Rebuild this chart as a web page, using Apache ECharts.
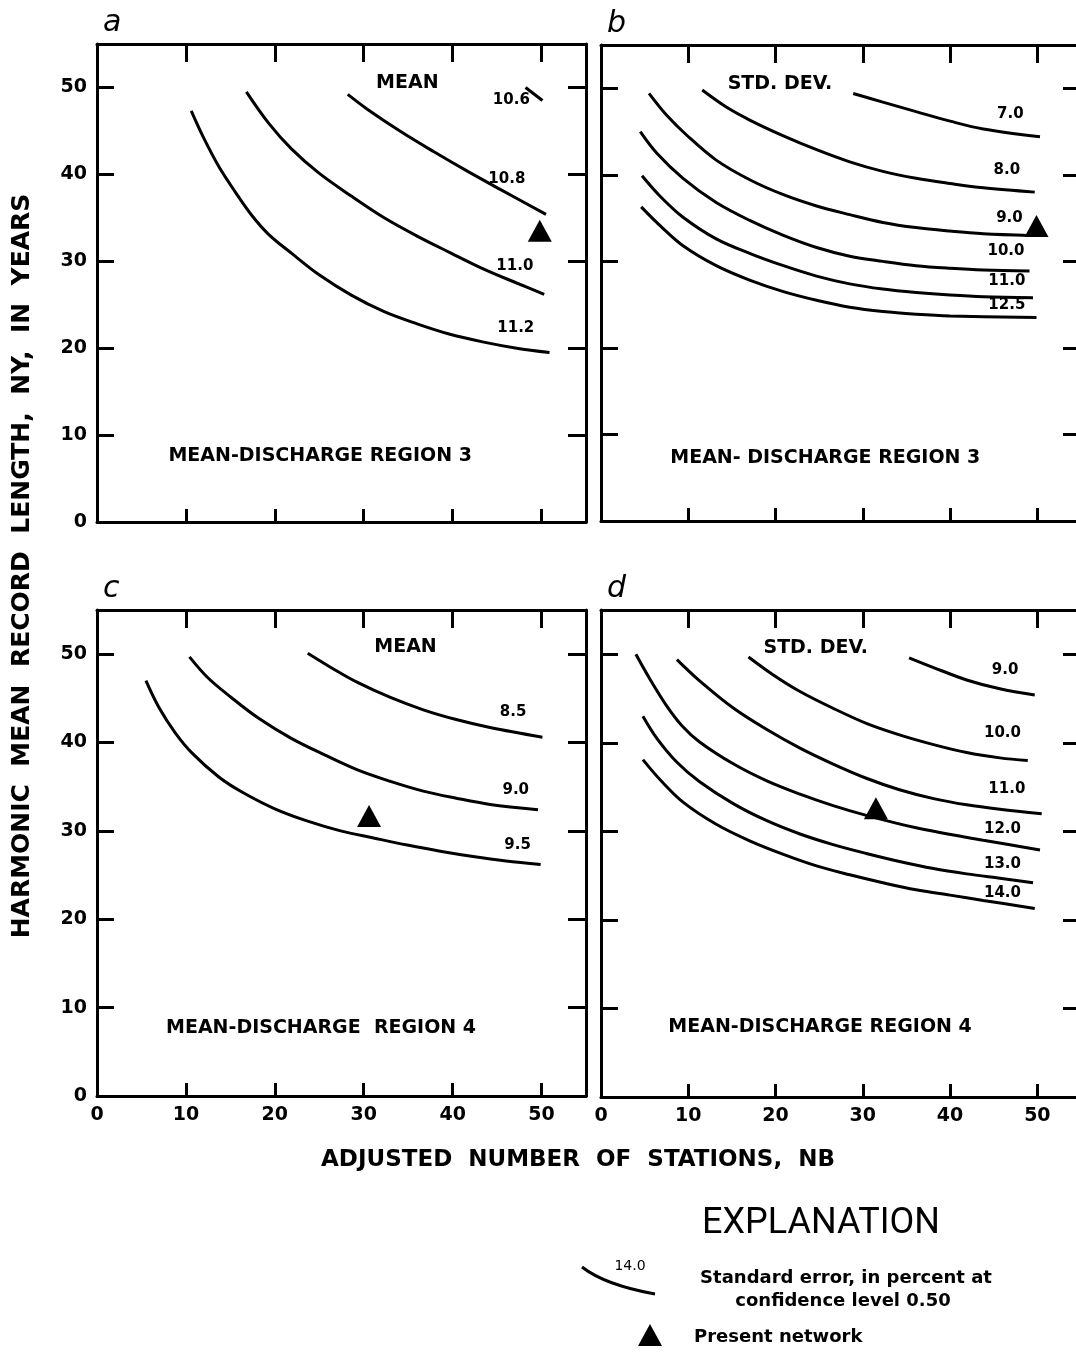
<!DOCTYPE html>
<html>
<head>
<meta charset="utf-8">
<title>Harmonic mean record length vs adjusted number of stations</title>
<script src="https://cdn.jsdelivr.net/npm/echarts@6/dist/echarts.min.js"></script>
<style>
html, body { margin: 0; padding: 0; background: #fff; overflow: hidden; }
#main { width: 1100px; height: 1353px; }
</style>
</head>
<body>
<div id="main"></div>
<script>
// axis ticks (both axes 0..55, labelled every 10)
var axisTicks = [0, 10, 20, 30, 40, 50];

// a: region 3, mean -- curves of standard error (percent)
var a106 = [[48.2, 50.0], [50.1, 48.5]];
var a108 = [[28.2, 49.2], [30.4, 47.5], [34.2, 44.9], [37.9, 42.6], [41.6, 40.4], [45.3, 38.3], [50.5, 35.4]];
var a110 = [[16.8, 49.5], [19.3, 45.9], [21.9, 42.9], [24.9, 40.2], [28.6, 37.5], [32.3, 35.0], [36.0, 32.9], [39.7, 31.0], [43.5, 29.1], [47.2, 27.5], [50.3, 26.2]];
var a112 = [[10.6, 47.3], [11.9, 44.4], [13.7, 40.9], [15.6, 37.9], [17.4, 35.3], [19.3, 33.1], [21.9, 30.9], [24.9, 28.5], [28.6, 26.1], [32.3, 24.2], [36.0, 22.8], [39.7, 21.6], [43.5, 20.7], [47.2, 20.0], [50.9, 19.5]];
var aNet = [[49.8, 33.5]];

// b: region 3, standard deviation
var b70 = [[28.9, 49.4], [32.3, 48.4], [36.1, 47.3], [40.0, 46.2], [43.8, 45.3], [50.3, 44.4]];
var b80 = [[11.6, 49.8], [14.4, 47.8], [17.1, 46.3], [20.9, 44.5], [24.7, 42.9], [28.5, 41.5], [32.3, 40.4], [36.1, 39.6], [40.0, 39.0], [43.8, 38.5], [49.7, 38.0]];
var b90 = [[5.5, 49.4], [7.5, 46.9], [9.8, 44.6], [13.2, 41.7], [17.1, 39.4], [20.9, 37.7], [24.7, 36.4], [28.5, 35.4], [32.3, 34.5], [36.1, 33.9], [40.0, 33.5], [43.8, 33.2], [49.1, 33.0]];
var b100 = [[4.5, 45.0], [6.4, 42.5], [9.4, 39.6], [13.2, 36.8], [17.1, 34.7], [20.9, 33.0], [24.7, 31.6], [28.5, 30.6], [32.3, 30.0], [36.1, 29.5], [40.0, 29.2], [43.8, 29.0], [49.1, 28.9]];
var b110 = [[4.7, 39.9], [6.8, 37.5], [9.4, 35.1], [13.2, 32.6], [17.1, 30.9], [20.9, 29.5], [24.7, 28.3], [28.5, 27.4], [32.3, 26.8], [36.1, 26.4], [40.0, 26.1], [43.8, 25.9], [49.5, 25.8]];
var b125 = [[4.6, 36.3], [6.8, 34.1], [9.4, 31.8], [13.2, 29.5], [17.1, 27.8], [20.9, 26.5], [24.7, 25.5], [28.5, 24.7], [32.3, 24.2], [36.1, 23.9], [40.0, 23.7], [49.9, 23.5]];
var bNet = [[49.9, 34.1]];

// c: region 4, mean
var c85 = [[23.7, 50.1], [26.3, 48.5], [29.3, 46.8], [33.0, 45.1], [36.7, 43.7], [40.4, 42.6], [44.2, 41.7], [50.1, 40.6]];
var c90 = [[10.4, 49.7], [12.5, 47.3], [15.1, 45.1], [18.1, 42.8], [21.8, 40.5], [25.6, 38.6], [29.3, 36.9], [33.0, 35.6], [36.7, 34.5], [40.4, 33.7], [44.2, 33.0], [49.6, 32.4]];
var c95 = [[5.5, 47.0], [7.0, 43.9], [8.8, 41.1], [10.7, 38.8], [13.7, 36.1], [16.3, 34.4], [20.0, 32.5], [23.7, 31.1], [27.4, 30.0], [31.1, 29.2], [34.9, 28.4], [38.6, 27.7], [42.3, 27.1], [46.0, 26.6], [49.9, 26.2]];
var cNet = [[30.6, 31.7]];

// d: region 4, standard deviation
var d90 = [[35.3, 49.6], [38.1, 48.5], [41.9, 47.1], [45.7, 46.1], [49.7, 45.4]];
var d100 = [[16.9, 49.7], [19.7, 47.7], [22.8, 45.8], [26.6, 43.9], [30.4, 42.2], [34.2, 40.9], [38.1, 39.8], [41.9, 38.9], [45.7, 38.3], [48.9, 38.0]];
var d110 = [[8.7, 49.4], [11.3, 47.0], [15.2, 43.9], [19.0, 41.5], [22.8, 39.4], [26.6, 37.6], [30.4, 36.0], [34.2, 34.7], [38.1, 33.7], [41.9, 33.0], [45.7, 32.5], [50.5, 32.0]];
var d120 = [[4.0, 50.0], [5.6, 47.2], [7.5, 44.2], [9.3, 41.9], [11.3, 40.1], [15.2, 37.6], [19.0, 35.7], [22.8, 34.2], [26.6, 32.9], [30.4, 31.8], [36.1, 30.4], [43.8, 29.0], [50.3, 27.9]];
var d130 = [[4.8, 43.0], [6.4, 40.5], [8.7, 37.8], [11.3, 35.6], [15.2, 33.1], [19.0, 31.2], [22.8, 29.7], [26.6, 28.5], [30.4, 27.5], [34.2, 26.6], [38.1, 25.8], [41.9, 25.2], [45.7, 24.7], [49.5, 24.2]];
var d140 = [[4.8, 38.1], [6.8, 35.8], [9.4, 33.3], [13.2, 30.8], [17.1, 28.9], [20.9, 27.4], [24.7, 26.1], [28.5, 25.1], [32.3, 24.2], [36.1, 23.4], [40.0, 22.8], [43.8, 22.2], [49.7, 21.3]];
var dNet = [[31.5, 32.6]];

// curve value labels [text, x, y]
var aCurveText = [['10.6', 46.6, 48.5], ['10.8', 46.1, 39.4], ['11.0', 47.0, 29.4], ['11.2', 47.1, 22.3]];
var bCurveText = [['7.0', 46.9, 47.0], ['8.0', 46.5, 40.6], ['9.0', 46.8, 35.0], ['10.0', 46.4, 31.2], ['11.0', 46.5, 27.7], ['12.5', 46.5, 24.9]];
var cCurveText = [['8.5', 46.8, 43.5], ['9.0', 47.1, 34.6], ['9.5', 47.3, 28.4]];
var dCurveText = [['9.0', 46.3, 48.2], ['10.0', 46.0, 41.1], ['11.0', 46.5, 34.8], ['12.0', 46.0, 30.3], ['13.0', 46.0, 26.3], ['14.0', 46.0, 23.0]];

// panel headings [text, x, y]
var aHeads = [['MEAN', 34.9, 50.5], ['MEAN-DISCHARGE REGION 3', 25.1, 7.6]];
var bHeads = [['STD. DEV.', 20.5, 50.5], ['MEAN- DISCHARGE REGION 3', 25.7, 7.3]];
var cHeads = [['MEAN', 34.7, 50.8], ['MEAN-DISCHARGE  REGION 4', 25.2, 7.7]];
var dHeads = [['STD. DEV.', 24.6, 50.7], ['MEAN-DISCHARGE REGION 4', 25.1, 7.9]];

var FONT = 'DejaVu Sans';
var panels = [
    { letter: 'a', curves: [a106, a108, a110, a112], net: aNet, vals: aCurveText, heads: aHeads,
      grid: { left: 97, top: 44, width: 489, height: 478 }, xLab: false, yLab: true },
    { letter: 'b', curves: [b70, b80, b90, b100, b110, b125], net: bNet, vals: bCurveText, heads: bHeads,
      grid: { left: 601, top: 45, width: 480, height: 476 }, xLab: false, yLab: false },
    { letter: 'c', curves: [c85, c90, c95], net: cNet, vals: cCurveText, heads: cHeads,
      grid: { left: 97, top: 610, width: 489, height: 486 }, xLab: true, yLab: true },
    { letter: 'd', curves: [d90, d100, d110, d120, d130, d140], net: dNet, vals: dCurveText, heads: dHeads,
      grid: { left: 601, top: 610, width: 480, height: 487 }, xLab: true, yLab: false }
];

function tickFmt(v) {
    return axisTicks.indexOf(v) >= 0 ? String(v) : '';
}

function makeAxis(gi, pos, labels, tickLen) {
    return {
        type: 'value', gridIndex: gi, position: pos,
        min: 0, max: 55, interval: 10,
        splitLine: { show: false },
        axisLine: { show: true, onZero: false, lineStyle: { color: '#000', width: 3 } },
        axisTick: { show: true, inside: true, length: tickLen, lineStyle: { color: '#000', width: 3 } },
        axisLabel: {
            show: labels, formatter: tickFmt, color: '#000',
            fontFamily: FONT, fontWeight: 'bold', fontSize: 19, margin: 10,
            showMinLabel: true, showMaxLabel: false
        }
    };
}

var grids = [], xAxes = [], yAxes = [], series = [], graphics = [];

panels.forEach(function (p, i) {
    grids.push(Object.assign({ show: false, outerBoundsMode: 'none', containLabel: false }, p.grid));
    xAxes.push(makeAxis(i, 'bottom', p.xLab, 13));
    xAxes.push(makeAxis(i, 'top', false, 18));
    yAxes.push(makeAxis(i, 'left', p.yLab, 17));
    yAxes.push(makeAxis(i, 'right', false, 18));

    p.curves.forEach(function (c) {
        series.push({
            type: 'line', xAxisIndex: 2 * i, yAxisIndex: 2 * i,
            data: c, smooth: 0.35, showSymbol: false, silent: true,
            lineStyle: { color: '#000', width: 3 }
        });
    });
    series.push({
        type: 'scatter', xAxisIndex: 2 * i, yAxisIndex: 2 * i,
        data: p.net, symbol: 'triangle', symbolSize: [24, 22], silent: true,
        itemStyle: { color: '#000', opacity: 1 }
    });
    series.push({
        type: 'scatter', xAxisIndex: 2 * i, yAxisIndex: 2 * i, symbolSize: 0, silent: true,
        itemStyle: { opacity: 1 },
        data: p.vals.map(function (t) { return { name: t[0], value: [t[1], t[2]] }; }),
        label: { show: true, position: 'inside', formatter: '{b}', color: '#000', opacity: 1,
                 fontFamily: FONT, fontWeight: 'bold', fontSize: 15 }
    });
    series.push({
        type: 'scatter', xAxisIndex: 2 * i, yAxisIndex: 2 * i, symbolSize: 0, silent: true,
        itemStyle: { opacity: 1 },
        data: p.heads.map(function (t) { return { name: t[0], value: [t[1], t[2]] }; }),
        label: { show: true, position: 'inside', formatter: '{b}', color: '#000', opacity: 1,
                 fontFamily: FONT, fontWeight: 'bold', fontSize: 19 }
    });

    graphics.push({
        type: 'text', left: p.grid.left + 6, top: p.grid.top - 36,
        style: { text: p.letter, font: 'italic 30px "DejaVu Sans"', fill: '#000' }
    });
});

// axis titles
graphics.push({
    type: 'text', x: 22, y: 566, rotation: Math.PI / 2,
    style: { text: 'HARMONIC  MEAN  RECORD  LENGTH,  NY,  IN  YEARS',
             font: 'bold 25px "DejaVu Sans"', fill: '#000', align: 'center', verticalAlign: 'middle' }
});
graphics.push({
    type: 'text', x: 578, y: 1160,
    style: { text: 'ADJUSTED  NUMBER  OF  STATIONS,  NB',
             font: 'bold 23px "DejaVu Sans"', fill: '#000', align: 'center', verticalAlign: 'middle' }
});

// explanation
graphics.push({
    type: 'text', x: 821, y: 1224,
    style: { text: 'EXPLANATION', font: '36px Roboto', fill: '#000', align: 'center', verticalAlign: 'middle' }
});
graphics.push({
    type: 'bezierCurve',
    shape: { x1: 582, y1: 1267, x2: 655, y2: 1294, cpx1: 605, cpy1: 1285 },
    style: { stroke: '#000', lineWidth: 3, fill: null }
});
graphics.push({
    type: 'text', x: 630, y: 1266,
    style: { text: '14.0', font: '14px "DejaVu Sans"', fill: '#000', align: 'center', verticalAlign: 'middle' }
});
graphics.push({
    type: 'text', x: 846, y: 1278,
    style: { text: 'Standard error, in percent at', font: 'bold 18px "DejaVu Sans"', fill: '#000', align: 'center', verticalAlign: 'middle' }
});
graphics.push({
    type: 'text', x: 843, y: 1301,
    style: { text: 'confidence level 0.50', font: 'bold 18px "DejaVu Sans"', fill: '#000', align: 'center', verticalAlign: 'middle' }
});
graphics.push({
    type: 'polygon',
    shape: { points: [[638, 1346], [662, 1346], [650, 1324]] },
    style: { fill: '#000' }
});
graphics.push({
    type: 'text', x: 694, y: 1337,
    style: { text: 'Present network', font: 'bold 18px "DejaVu Sans"', fill: '#000', align: 'left', verticalAlign: 'middle' }
});

var option = {
    backgroundColor: '#fff',
    animation: false,
    grid: grids,
    xAxis: xAxes,
    yAxis: yAxes,
    series: series,
    graphic: graphics
};

var myChart = echarts.init(document.getElementById('main'));
myChart.setOption(option);
</script>
</body>
</html>
